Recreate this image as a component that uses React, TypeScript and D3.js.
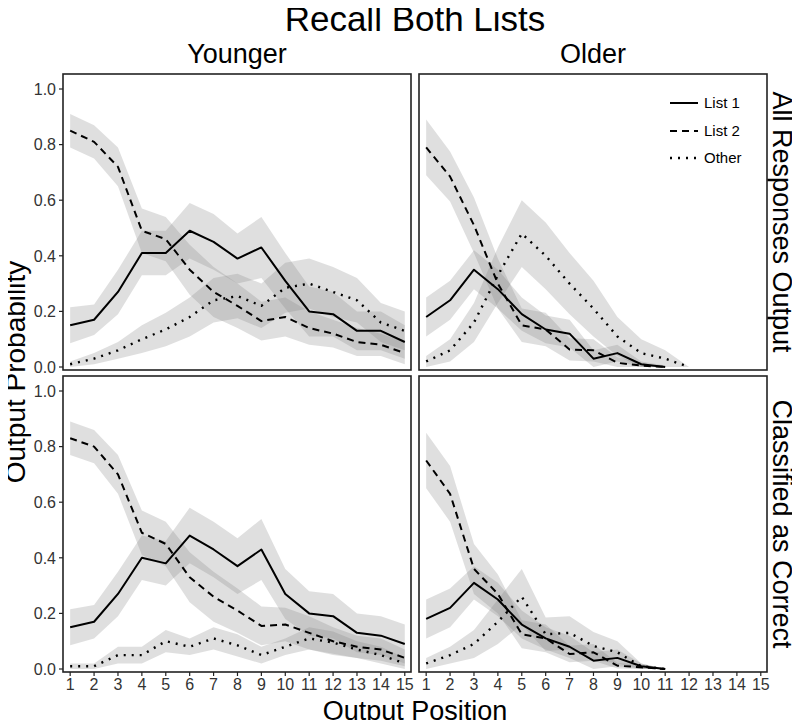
import React from "react";
import * as d3 from "d3";

// ---------- data ----------
const outputPositions = [1, 2, 3, 4, 5, 6, 7, 8, 9, 10, 11, 12, 13, 14, 15];
const yTicks = [0, 0.2, 0.4, 0.6, 0.8, 1.0];
const ageGroups = ["Younger", "Older"];
const measures = ["All Responses Output", "Classified as Correct"];
const seriesNames = ["List 1", "List 2", "Other"];

// Younger, All Responses Output
const youngerAllList1 = [0.15, 0.17, 0.27, 0.41, 0.41, 0.49, 0.45, 0.39, 0.43, 0.31, 0.2, 0.19, 0.13, 0.13, 0.09];
const youngerAllList1CI = [0.065, 0.055, 0.08, 0.08, 0.08, 0.1, 0.1, 0.09, 0.11, 0.1, 0.09, 0.08, 0.07, 0.07, 0.06];
const youngerAllList2 = [0.85, 0.81, 0.72, 0.49, 0.46, 0.35, 0.27, 0.22, 0.165, 0.18, 0.14, 0.12, 0.09, 0.08, 0.05];
const youngerAllList2CI = [0.06, 0.06, 0.07, 0.08, 0.08, 0.09, 0.09, 0.08, 0.07, 0.07, 0.06, 0.05, 0.05, 0.04, 0.04];
const youngerAllOther = [0.01, 0.03, 0.06, 0.1, 0.135, 0.18, 0.24, 0.255, 0.22, 0.285, 0.3, 0.27, 0.24, 0.16, 0.13];
const youngerAllOtherCI = [0.01, 0.02, 0.03, 0.05, 0.06, 0.07, 0.08, 0.08, 0.08, 0.09, 0.09, 0.09, 0.08, 0.07, 0.07];

// Older, All Responses Output
const olderAllList1 = [0.18, 0.24, 0.35, 0.28, 0.19, 0.135, 0.12, 0.03, 0.05, 0.01, 0.0, null, null, null, null];
const olderAllList1CI = [0.07, 0.07, 0.07, 0.07, 0.06, 0.05, 0.05, 0.03, 0.03, 0.01, 0.005, null, null, null, null];
const olderAllList2 = [0.79, 0.685, 0.51, 0.3, 0.15, 0.135, 0.063, 0.06, 0.015, 0.005, 0.0, null, null, null, null];
const olderAllList2CI = [0.1, 0.09, 0.1, 0.09, 0.06, 0.06, 0.04, 0.04, 0.02, 0.01, 0.0, null, null, null, null];
const olderAllOther = [0.02, 0.06, 0.16, 0.33, 0.48, 0.4, 0.3, 0.21, 0.11, 0.05, 0.03, 0.0, null, null, null];
const olderAllOtherCI = [0.02, 0.04, 0.07, 0.1, 0.12, 0.12, 0.11, 0.1, 0.07, 0.05, 0.03, 0.0, null, null, null];

// Younger, Classified as Correct
const youngerCorrectList1 = [0.15, 0.17, 0.27, 0.4, 0.38, 0.48, 0.43, 0.37, 0.43, 0.27, 0.2, 0.19, 0.13, 0.12, 0.09];
const youngerCorrectList1CI = [0.065, 0.06, 0.08, 0.08, 0.08, 0.1, 0.1, 0.1, 0.11, 0.09, 0.08, 0.08, 0.07, 0.07, 0.07];
const youngerCorrectList2 = [0.83, 0.8, 0.7, 0.49, 0.45, 0.33, 0.26, 0.21, 0.155, 0.16, 0.13, 0.1, 0.08, 0.07, 0.04];
const youngerCorrectList2CI = [0.06, 0.06, 0.07, 0.08, 0.08, 0.09, 0.09, 0.08, 0.07, 0.06, 0.06, 0.05, 0.04, 0.04, 0.03];
const youngerCorrectOther = [0.01, 0.01, 0.05, 0.05, 0.1, 0.08, 0.11, 0.085, 0.05, 0.08, 0.11, 0.095, 0.07, 0.05, 0.02];
const youngerCorrectOtherCI = [0.01, 0.01, 0.03, 0.03, 0.04, 0.03, 0.04, 0.04, 0.03, 0.03, 0.04, 0.04, 0.03, 0.03, 0.02];

// Older, Classified as Correct
const olderCorrectList1 = [0.18, 0.22, 0.31, 0.25, 0.16, 0.11, 0.08, 0.03, 0.04, 0.01, 0.0, null, null, null, null];
const olderCorrectList1CI = [0.07, 0.07, 0.06, 0.06, 0.05, 0.04, 0.04, 0.03, 0.03, 0.01, 0.0, null, null, null, null];
const olderCorrectList2 = [0.75, 0.63, 0.36, 0.27, 0.125, 0.11, 0.054, 0.06, 0.012, 0.006, 0.0, null, null, null, null];
const olderCorrectList2CI = [0.1, 0.1, 0.09, 0.07, 0.05, 0.05, 0.03, 0.03, 0.01, 0.01, 0.0, null, null, null, null];
const olderCorrectOther = [0.02, 0.05, 0.09, 0.17, 0.26, 0.125, 0.13, 0.083, 0.06, 0.01, 0.0, null, null, null, null];
const olderCorrectOtherCI = [0.02, 0.03, 0.05, 0.08, 0.1, 0.06, 0.06, 0.05, 0.04, 0.01, 0.0, null, null, null, null];

const panelData = [
  [
    [[youngerAllList1, youngerAllList1CI], [youngerAllList2, youngerAllList2CI], [youngerAllOther, youngerAllOtherCI]],
    [[olderAllList1, olderAllList1CI], [olderAllList2, olderAllList2CI], [olderAllOther, olderAllOtherCI]],
  ],
  [
    [[youngerCorrectList1, youngerCorrectList1CI], [youngerCorrectList2, youngerCorrectList2CI], [youngerCorrectOther, youngerCorrectOtherCI]],
    [[olderCorrectList1, olderCorrectList1CI], [olderCorrectList2, olderCorrectList2CI], [olderCorrectOther, olderCorrectOtherCI]],
  ],
];

// ---------- layout ----------
const W = 800;
const H = 728;
const colX = [63, 419];
const rowY = [74, 376];
const PW = 348;
const PH = 296;
const FONT = "'Liberation Sans', Arial, Helvetica, sans-serif";
const dashes = [null, "7,5", "2,6"];

type Pt = { x: number; v: number | null; ci: number | null };

function Panel({ row, col }: { row: number; col: number }) {
  const x0 = colX[col];
  const y0 = rowY[row];
  const xs = d3.scaleLinear().domain([0.7, 15.26]).range([x0, x0 + PW]);
  const ys = d3.scaleLinear().domain([0, 1]).range([y0 + 293, y0 + 15]);
  const clipId = `clip-${row}-${col}`;
  const series = panelData[row][col];

  const line = d3
    .line<Pt>()
    .defined((d) => d.v != null)
    .x((d) => xs(d.x))
    .y((d) => ys(d.v as number));
  const area = d3
    .area<Pt>()
    .defined((d) => d.v != null)
    .x((d) => xs(d.x))
    .y0((d) => ys(Math.max(0, (d.v as number) - (d.ci as number))))
    .y1((d) => ys((d.v as number) + (d.ci as number)));

  const pts = series.map(([vals, cis]) =>
    outputPositions.map((x, i) => ({ x, v: vals[i], ci: cis[i] } as Pt))
  );

  return (
    <g>
      <defs>
        <clipPath id={clipId}>
          <rect x={x0} y={y0} width={PW} height={PH} />
        </clipPath>
      </defs>
      <rect x={x0} y={y0} width={PW} height={PH} fill="#fff" />
      <g clipPath={`url(#${clipId})`}>
        {pts.map((p, i) => (
          <path key={"a" + i} d={area(p) || ""} fill="#7f7f7f" fillOpacity={0.25} stroke="none" />
        ))}
        {pts.map((p, i) => (
          <path
            key={"l" + i}
            d={line(p) || ""}
            fill="none"
            stroke="#000"
            strokeWidth={i === 2 ? 2.4 : 2}
            strokeDasharray={dashes[i] || undefined}
            strokeLinejoin="round"
          />
        ))}
      </g>
      <rect x={x0} y={y0} width={PW} height={PH} fill="none" stroke="#222" strokeWidth={1.6} />
      {col === 0 &&
        yTicks.map((t) => (
          <g key={"yt" + t}>
            <line x1={x0 - 4} x2={x0} y1={ys(t)} y2={ys(t)} stroke="#222" strokeWidth={1.2} />
            <text x={x0 - 7} y={ys(t)} dy="0.36em" textAnchor="end" fontSize={16} fill="#333" fontFamily={FONT}>
              {t.toFixed(1)}
            </text>
          </g>
        ))}
      {row === 1 &&
        outputPositions.map((t) => (
          <g key={"xt" + t}>
            <line x1={xs(t)} x2={xs(t)} y1={y0 + PH} y2={y0 + PH + 4} stroke="#222" strokeWidth={1.2} />
            <text x={xs(t)} y={y0 + PH + 18} textAnchor="middle" fontSize={16} fill="#333" fontFamily={FONT}>
              {t}
            </text>
          </g>
        ))}
    </g>
  );
}

function Legend() {
  const lx = 670;
  const ly = [103, 131, 158];
  return (
    <g>
      {seriesNames.map((n, i) => (
        <g key={n}>
          <line
            x1={lx}
            x2={lx + 28}
            y1={ly[i]}
            y2={ly[i]}
            stroke="#000"
            strokeWidth={i === 2 ? 2.4 : 2}
            strokeDasharray={dashes[i] || undefined}
          />
          <text x={lx + 34} y={ly[i]} dy="0.36em" fontSize={15} fill="#000" fontFamily={FONT}>
            {n}
          </text>
        </g>
      ))}
    </g>
  );
}

export default function App() {
  return (
    <svg width={W} height={H} style={{ display: "block", margin: "-8px", background: "#fff" }}>
      <rect width={W} height={H} fill="#fff" />
      <text x={415} y={31} textAnchor="middle" fontSize={35} fontFamily={FONT} fill="#000">
        Recall Both Lists
      </text>
      {ageGroups.map((a, c) => (
        <text key={a} x={colX[c] + PW / 2} y={63} textAnchor="middle" fontSize={27} fontFamily={FONT} fill="#000">
          {a}
        </text>
      ))}
      {measures.map((m, r) => (
        <text
          key={m}
          transform={`translate(${773},${rowY[r] + PH / 2}) rotate(90)`}
          textAnchor="middle"
          fontSize={27}
          fontFamily={FONT}
          fill="#000"
        >
          {m}
        </text>
      ))}
      {[0, 1].map((r) => [0, 1].map((c) => <Panel key={`${r}-${c}`} row={r} col={c} />))}
      <Legend />
      <text
        transform={`translate(${25},${372}) rotate(-90)`}
        textAnchor="middle"
        fontSize={28}
        fontFamily={FONT}
        fill="#000"
      >
        Output Probability
      </text>
      <text x={415} y={720} textAnchor="middle" fontSize={27} fontFamily={FONT} fill="#000">
        Output Position
      </text>
    </svg>
  );
}
